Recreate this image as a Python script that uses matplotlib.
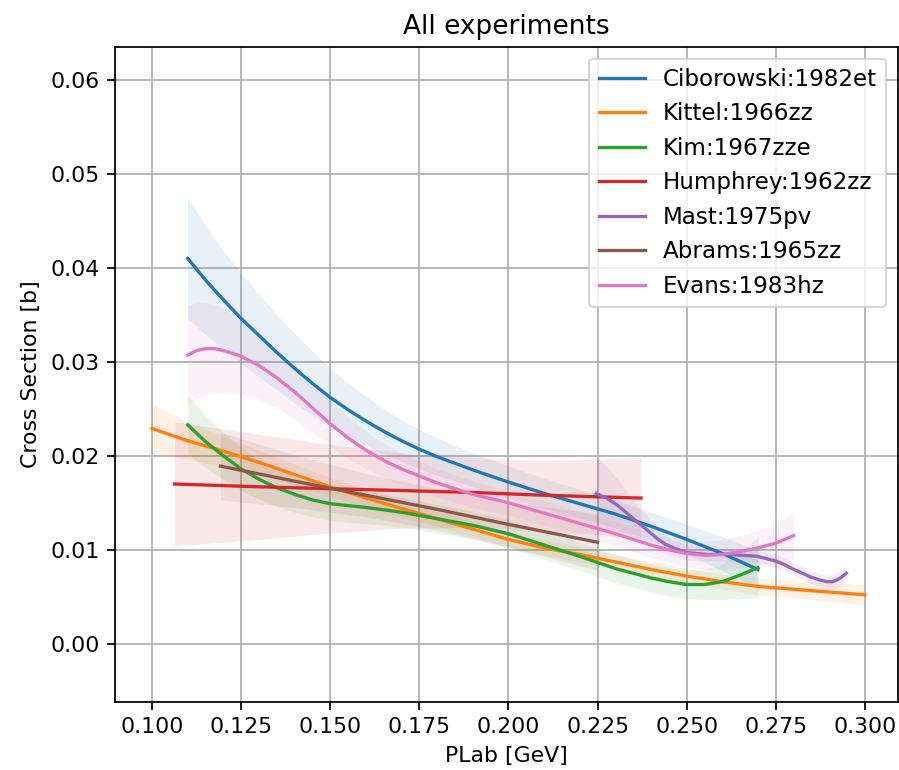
import matplotlib
matplotlib.use("Agg")
import matplotlib.pyplot as plt
import numpy as np

labels = ["Ciborowski:1982et", "Kittel:1966zz", "Kim:1967zze", "Humphrey:1962zz",
          "Mast:1975pv", "Abrams:1965zz", "Evans:1983hz"]

cib_x = [0.11, 0.115, 0.12, 0.125, 0.13, 0.135, 0.14, 0.145, 0.15, 0.155, 0.16, 0.165, 0.17, 0.175, 0.18, 0.19, 0.20, 0.21, 0.22, 0.23, 0.24, 0.25, 0.26, 0.27]
cib_y = [0.0410, 0.0387, 0.0366, 0.0346, 0.0328, 0.0310, 0.0293, 0.0277, 0.0262, 0.0249, 0.0237, 0.0226, 0.0216, 0.0207, 0.0199, 0.0185, 0.0172, 0.0160, 0.0149, 0.0138, 0.0125, 0.0111, 0.0096, 0.0079]
cib_e = [0.0064, 0.0058, 0.0052, 0.0048, 0.0044, 0.0040, 0.0037, 0.0034, 0.0031, 0.0028, 0.0026, 0.0024, 0.0022, 0.0021, 0.0020, 0.0018, 0.0017, 0.0016, 0.0015, 0.0015, 0.0015, 0.0016, 0.0018, 0.0020]

kit_x = [0.10, 0.11, 0.12, 0.13, 0.14, 0.15, 0.16, 0.17, 0.18, 0.19, 0.20, 0.21, 0.22, 0.23, 0.24, 0.25, 0.26, 0.27, 0.28, 0.29, 0.30]
kit_y = [0.0229, 0.0216, 0.0205, 0.0193, 0.0180, 0.0167, 0.0155, 0.0144, 0.0133, 0.0122, 0.0111, 0.0102, 0.0095, 0.0087, 0.0079, 0.0072, 0.0066, 0.0061, 0.0058, 0.0055, 0.0052]
kit_e = [0.0026, 0.0020, 0.0016, 0.0013, 0.0011, 0.0010, 0.0009, 0.0009, 0.0008, 0.0008, 0.0008, 0.0008, 0.0008, 0.0008, 0.0008, 0.0008, 0.0008, 0.0009, 0.0009, 0.0010, 0.0011]

kim_x = [0.11, 0.115, 0.12, 0.125, 0.13, 0.135, 0.14, 0.145, 0.15, 0.16, 0.17, 0.18, 0.19, 0.20, 0.21, 0.22, 0.23, 0.24, 0.245, 0.25, 0.255, 0.26, 0.265, 0.27]
kim_y = [0.0233, 0.0215, 0.0200, 0.0186, 0.0175, 0.0166, 0.0159, 0.0153, 0.0149, 0.0145, 0.0140, 0.0133, 0.0126, 0.0117, 0.0105, 0.0093, 0.0080, 0.0070, 0.0066, 0.0063, 0.0063, 0.0066, 0.0073, 0.0081]
kim_e = [0.0031, 0.0028, 0.0025, 0.0023, 0.0021, 0.0020, 0.0019, 0.0018, 0.0018, 0.0017, 0.0016, 0.0015, 0.0015, 0.0015, 0.0015, 0.0015, 0.0015, 0.0015, 0.0015, 0.0015, 0.0016, 0.0019, 0.0025, 0.0032]

hum_x = [0.1063, 0.13, 0.15, 0.17, 0.19, 0.21, 0.2372]
hum_y = [0.0170, 0.0167, 0.0165, 0.0163, 0.0161, 0.0158, 0.0155]
hum_e = [0.0066, 0.0056, 0.0047, 0.0040, 0.0037, 0.0037, 0.0043]

mas_x = [0.2246, 0.2275, 0.2304, 0.2332, 0.236, 0.2389, 0.2417, 0.244, 0.2463, 0.25, 0.2557, 0.2623, 0.2698, 0.275, 0.2775, 0.2801, 0.2825, 0.2848, 0.2872, 0.2894, 0.291, 0.2922, 0.2935, 0.2948]
mas_y = [0.0160, 0.0155, 0.0148, 0.0139, 0.0130, 0.0121, 0.0112, 0.0106, 0.0102, 0.0097, 0.0095, 0.0095, 0.0093, 0.0088, 0.0084, 0.0079, 0.0075, 0.0071, 0.0068, 0.0066, 0.0066, 0.0068, 0.0071, 0.0075]
mas_e = [0.0040, 0.0034, 0.0028, 0.0023, 0.0018, 0.0015, 0.0012, 0.0010, 0.0009, 0.0008, 0.0007, 0.0007, 0.0007, 0.0007, 0.0007, 0.0007, 0.0007, 0.0007, 0.0007, 0.0008, 0.0008, 0.0008, 0.0008, 0.0008]

abr_x = [0.1192, 0.14, 0.16, 0.18, 0.20, 0.225]
abr_y = [0.0189, 0.0173, 0.0158, 0.0143, 0.0127, 0.0108]
abr_e = [0.0036, 0.0028, 0.0023, 0.0022, 0.0024, 0.0030]

eva_x = [0.11, 0.1125, 0.115, 0.1175, 0.12, 0.125, 0.13, 0.135, 0.14, 0.145, 0.15, 0.155, 0.16, 0.165, 0.17, 0.18, 0.19, 0.20, 0.21, 0.22, 0.23, 0.24, 0.245, 0.25, 0.255, 0.26, 0.265, 0.27, 0.275, 0.28]
eva_y = [0.0307, 0.0312, 0.0314, 0.0314, 0.0312, 0.0306, 0.0296, 0.0283, 0.0268, 0.0251, 0.0234, 0.0219, 0.0206, 0.0195, 0.0186, 0.0171, 0.0159, 0.0150, 0.0139, 0.0128, 0.0117, 0.0105, 0.0100, 0.0096, 0.0094, 0.0095, 0.0098, 0.0102, 0.0107, 0.0115]
eva_e = [0.0053, 0.0051, 0.0049, 0.0047, 0.0045, 0.0040, 0.0036, 0.0032, 0.0029, 0.0026, 0.0024, 0.0022, 0.0020, 0.0018, 0.0017, 0.0015, 0.0014, 0.0013, 0.0013, 0.0013, 0.0013, 0.0013, 0.0013, 0.0014, 0.0015, 0.0016, 0.0017, 0.0019, 0.0021, 0.0024]

series = [(cib_x, cib_y, cib_e), (kit_x, kit_y, kit_e), (kim_x, kim_y, kim_e),
          (hum_x, hum_y, hum_e), (mas_x, mas_y, mas_e), (abr_x, abr_y, abr_e),
          (eva_x, eva_y, eva_e)]
colors = ["tab:blue", "tab:orange", "tab:green", "tab:red", "tab:purple", "tab:brown", "tab:pink"]

W, H = 899, 770
dpi = 158
fig = plt.figure(figsize=(W / dpi, H / dpi), dpi=dpi)
ax = fig.add_axes([115 / W, 1 - 702 / H, (898 - 115) / W, (702 - 47) / H])

for (x, y, e), c, lab in zip(series, colors, labels):
    x = np.array(x); y = np.array(y); e = np.array(e)
    ax.plot(x, y, color=c, lw=1.5, label=lab, solid_joinstyle="round")
    ax.fill_between(x, y - e, y + e, color=c, alpha=0.1, lw=0)

ax.set_xlim(0.0896, 0.3093)
ax.set_ylim(-0.0062, 0.0635)
ax.set_xticks(np.arange(0.1, 0.3001, 0.025))
ax.set_yticks(np.arange(0.0, 0.0601, 0.01))
ax.grid(True)
ax.set_axisbelow(True)
ax.set_xlabel("PLab [GeV]")
ax.set_ylabel("Cross Section [b]")
ax.set_title("All experiments")
ax.legend(loc="upper right", fontsize=10.5)

fig.savefig("out.png", dpi=dpi)
